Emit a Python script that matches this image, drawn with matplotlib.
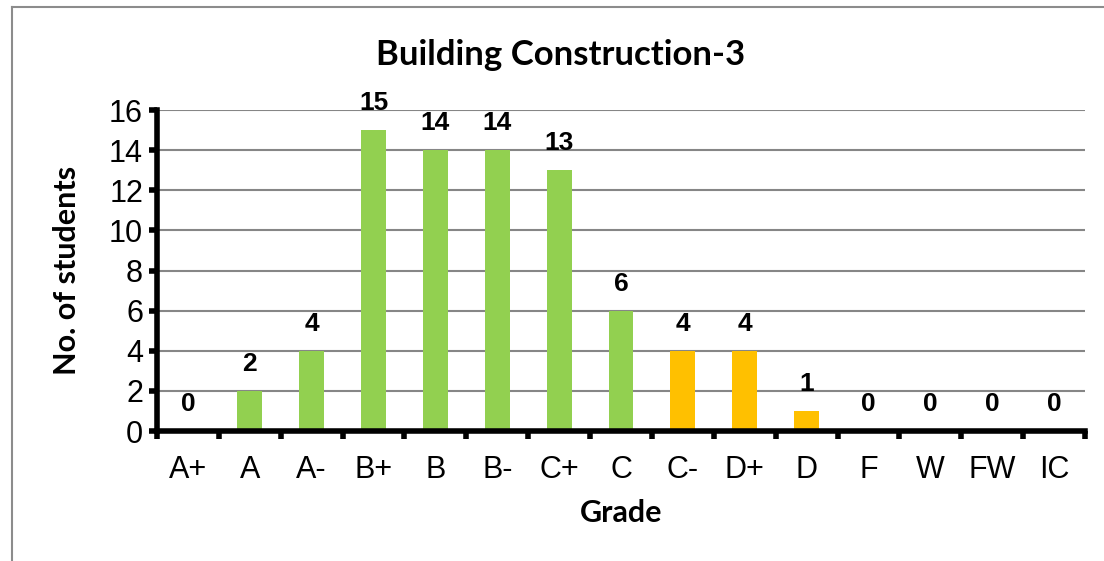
import matplotlib
matplotlib.use('Agg')
import matplotlib.pyplot as plt
from matplotlib.lines import Line2D

# 数据
grades = ['A+', 'A', 'A-', 'B+', 'B', 'B-', 'C+', 'C', 'C-', 'D+', 'D', 'F', 'W', 'FW', 'IC']
students = [0, 2, 4, 15, 14, 14, 13, 6, 4, 4, 1, 0, 0, 0, 0]
bar_colors = ['#92D050'] * 8 + ['#FFC000'] * 3 + ['#92D050'] * 4
y_ticks = [0, 2, 4, 6, 8, 10, 12, 14, 16]

fig = plt.figure(figsize=(11.04, 5.61), dpi=100)
ax = fig.add_axes([0.1422, 0.2317, 0.8406, 0.5722])

x = list(range(len(grades)))
ax.bar(x, students, width=0.4, color=bar_colors, zorder=3)

ax.set_xlim(-0.5, len(grades) - 0.5)
ax.set_ylim(0, 16)
ax.set_yticks(y_ticks)
ax.set_yticklabels([str(v) for v in y_ticks], fontsize=22, family='Liberation Sans')
ax.set_xticks(x)
ax.set_xticklabels(grades, fontsize=22, family='Liberation Sans')
ax.tick_params(axis='x', length=0, pad=17)
ax.set_xticks([i - 0.5 for i in range(len(grades) + 1)], minor=True)
ax.tick_params(axis='x', which='minor', length=6, width=4, direction='out')
ax.tick_params(axis='y', length=6, width=4, direction='out', pad=4)

ax.grid(axis='y', color='#868686', linewidth=1.5, zorder=0)
for s in ['top', 'right']:
    ax.spines[s].set_visible(False)
for s in ['left', 'bottom']:
    ax.spines[s].set_linewidth(4)
    ax.spines[s].set_zorder(4)

# 数值标签
for xi, v in zip(x, students):
    ax.text(xi, v + 0.75, str(v), ha='center', va='bottom', fontsize=19,
            fontweight='bold', family='Liberation Sans')

# 标题放在整张图的中间
fig.text(561 / 1104, 1 - 55 / 561, 'Building Construction-3', ha='center', va='center',
         fontsize=25, fontweight='bold', family='Lato')
ax.set_ylabel('No. of students', fontsize=22, fontweight='bold', family='Lato', labelpad=20)
ax.set_xlabel('Grade', fontsize=22, fontweight='bold', family='Lato', labelpad=10)

# 外框
fig.add_artist(Line2D([12 / 1104, 12 / 1104], [0, 1 - 7 / 561], transform=fig.transFigure,
                      color='#8c8c8c', linewidth=1.5))
fig.add_artist(Line2D([12 / 1104, 1], [1 - 7 / 561, 1 - 7 / 561], transform=fig.transFigure,
                      color='#8c8c8c', linewidth=1.5))

plt.savefig('out.png', dpi=100)
plt.close()
